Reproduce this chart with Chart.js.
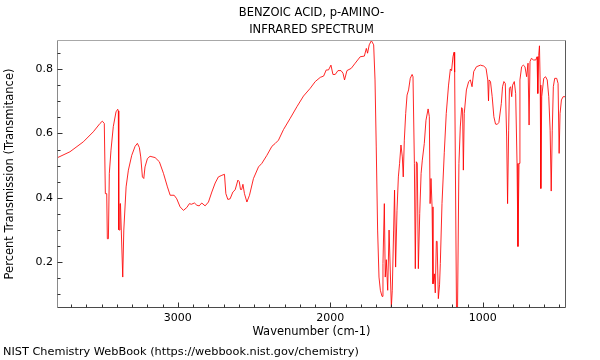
<!DOCTYPE html>
<html><head><meta charset="utf-8">
<script src="https://cdn.jsdelivr.net/npm/chart.js@4/dist/chart.umd.min.js"></script>
<style>html,body{margin:0;padding:0;background:#fff}#wrap{width:600px;height:360px}</style>
</head><body><div id="wrap"><canvas id="c" width="600" height="360"></canvas></div>
<script>
const titleLines = ["BENZOIC ACID, p-AMINO-", "INFRARED SPECTRUM"];
const xAxisTitle = "Wavenumber (cm-1)";
const yAxisTitle = "Percent Transmission (Transmitance)";
const footerText = "NIST Chemistry WebBook (https://webbook.nist.gov/chemistry)";

const wavenumbers = [3792,3707,3619,3554,3510,3495,3482,3475,3466,3462,3455,3449,3438,3423,3405,3394,3390,3387,3383,3379,3376,3361,3354,3339,3324,3302,3280,3265,3252,3243,3232,3223,3215,3199,3182,3149,3121,3094,3068,3050,3024,3007,2985,2963,2941,2924,2911,2891,2875,2860,2843,2821,2799,2777,2755,2734,2711,2694,2685,2672,2657,2639,2624,2606,2597,2589,2581,2573,2563,2547,2530,2504,2471,2449,2416,2383,2361,2340,2307,2263,2219,2176,2132,2099,2066,2044,2027,2012,1996,1983,1968,1950,1930,1917,1907,1891,1863,1837,1804,1777,1764,1756,1745,1731,1716,1707,1699,1690,1681,1672,1661,1655,1646,1640,1633,1624,1615,1610,1600,1594,1585,1579,1572,1563,1554,1546,1537,1528,1522,1515,1506,1497,1487,1476,1464,1458,1449,1443,1436,1430,1423,1414,1405,1397,1384,1373,1359,1351,1346,1340,1333,1327,1318,1312,1305,1300,1292,1284,1279,1268,1253,1240,1225,1213,1205,1196,1189,1185,1173,1166,1157,1148,1139,1133,1128,1122,1108,1093,1082,1071,1060,1042,1016,994,979,968,963,959,950,939,928,917,906,895,879,871,862,853,844,838,831,826,818,811,805,794,785,776,770,763,757,746,735,724,713,704,697,691,682,668,653,645,640,634,629,624,620,614,601,589,578,568,559,552,545,538,529,516,507,500,494,485,474,456];
const transmittance = [0.524,0.543,0.574,0.605,0.631,0.638,0.631,0.413,0.413,0.273,0.273,0.476,0.548,0.621,0.667,0.675,0.670,0.301,0.300,0.382,0.382,0.154,0.300,0.434,0.486,0.532,0.560,0.569,0.556,0.527,0.465,0.460,0.496,0.522,0.529,0.525,0.512,0.476,0.434,0.408,0.408,0.397,0.372,0.361,0.370,0.382,0.380,0.384,0.377,0.375,0.384,0.375,0.387,0.418,0.446,0.465,0.470,0.473,0.413,0.395,0.397,0.418,0.425,0.455,0.450,0.426,0.426,0.442,0.413,0.387,0.408,0.460,0.496,0.507,0.532,0.560,0.569,0.579,0.612,0.647,0.683,0.716,0.740,0.761,0.774,0.778,0.797,0.797,0.812,0.783,0.783,0.795,0.795,0.787,0.766,0.795,0.802,0.818,0.838,0.840,0.864,0.849,0.875,0.888,0.875,0.766,0.558,0.300,0.154,0.113,0.094,0.196,0.382,0.154,0.208,0.113,0.300,0.300,0.061,0.113,0.300,0.424,0.185,0.360,0.465,0.507,0.564,0.527,0.465,0.579,0.662,0.719,0.735,0.771,0.783,0.776,0.507,0.180,0.512,0.507,0.180,0.351,0.476,0.517,0.569,0.641,0.676,0.652,0.382,0.460,0.372,0.133,0.164,0.105,0.265,0.265,0.087,0.130,0.196,0.382,0.540,0.662,0.750,0.800,0.795,0.838,0.852,0.790,0.061,0.061,0.507,0.620,0.680,0.675,0.486,0.662,0.735,0.761,0.766,0.745,0.792,0.807,0.812,0.809,0.802,0.766,0.701,0.766,0.761,0.714,0.652,0.629,0.628,0.634,0.693,0.745,0.761,0.755,0.589,0.382,0.610,0.740,0.745,0.714,0.750,0.761,0.724,0.507,0.249,0.507,0.766,0.807,0.812,0.807,0.776,0.818,0.626,0.823,0.833,0.828,0.828,0.838,0.724,0.842,0.872,0.750,0.429,0.714,0.771,0.776,0.766,0.714,0.610,0.421,0.610,0.745,0.771,0.771,0.755,0.538,0.662,0.704,0.714,0.714];

const xTickValues = [3700,3600,3500,3400,3300,3200,3100,3000,2900,2800,2700,2600,2500,2400,2300,2200,2100,2000,1900,1800,1700,1600,1500,1400,1300,1200,1100,1000,900,800,700,600,500];
const xTickLabels = [3000,2000,1000];
const yTickValues = [0.1,0.15,0.2,0.25,0.3,0.35,0.4,0.45,0.5,0.55,0.6,0.65,0.7,0.75,0.8,0.85];
const yTickLabels = [0.2,0.4,0.6,0.8];
const xRange = [455, 3792];
const yRange = [0.058, 0.89];

const FONT = "'DejaVu Sans', sans-serif";
const points = wavenumbers.map((w, i) => ({x: w, y: transmittance[i]}));

const decor = {
  id: 'decor',
  afterDraw(chart) {
    const ctx = chart.ctx, ca = chart.chartArea;
    const xs = chart.scales.x, ys = chart.scales.y;
    ctx.save();
    ctx.lineWidth = 1;
    const seg = (x1, y1, x2, y2, c) => { ctx.strokeStyle = c; ctx.beginPath(); ctx.moveTo(x1, y1); ctx.lineTo(x2, y2); ctx.stroke(); };
    const L = Math.round(ca.left) + 0.5, R = Math.round(ca.right) - 0.5, T = Math.round(ca.top) + 0.5, B = Math.round(ca.bottom) - 0.5;
    seg(L, T, R, T, '#a8a8a8');
    seg(R, T, R, B, '#5a5a5a');
    seg(L, T, L, B, '#8a8a8a');
    seg(L, B, R, B, '#4a4a4a');
    xTickValues.forEach(v => {
      const px = Math.round(xs.getPixelForValue(v)) + 0.5;
      const len = xTickLabels.includes(v) ? 5 : 3;
      seg(px, B, px, B - len, '#333');
    });
    yTickValues.forEach(v => {
      const py = Math.round(ys.getPixelForValue(v)) + 0.5;
      const len = yTickLabels.includes(v) ? 5 : 3;
      seg(L, py, L + len, py, '#333');
    });
    ctx.fillStyle = '#000';
    ctx.textBaseline = 'middle';
    ctx.textAlign = 'center';
    ctx.font = "11.5px " + FONT;
    const cx = (ca.left + ca.right) / 2;
    ctx.fillText(titleLines[0], cx, 13);
    ctx.fillText(titleLines[1], cx, 30);
    ctx.fillText(xAxisTitle, cx, 332);
    ctx.save();
    ctx.translate(10, (ca.top + ca.bottom) / 2);
    ctx.rotate(-Math.PI / 2);
    ctx.fillText(yAxisTitle, 0, 0);
    ctx.restore();
    ctx.textAlign = 'left';
    ctx.font = "11.3px " + FONT;
    ctx.fillText(footerText, 3, 352);
    ctx.restore();
  }
};

new Chart(document.getElementById('c'), {
  type: 'line',
  data: { datasets: [{ data: points, borderColor: 'rgba(255,0,0,0.85)', borderWidth: 1, pointRadius: 0, tension: 0, fill: false }] },
  options: {
    responsive: false, animation: false, devicePixelRatio: 1,
    layout: { padding: { top: 40, right: 34, left: 0, bottom: 0 } },
    plugins: { legend: { display: false }, tooltip: { enabled: false }, title: { display: false } },
    scales: {
      x: {
        type: 'linear', reverse: true, min: xRange[0], max: xRange[1], position: 'bottom',
        grid: { display: false, drawTicks: false }, border: { display: false },
        afterBuildTicks: s => { s.ticks = xTickValues.map(v => ({ value: v })); },
        afterFit: s => { s.height = 52; },
        ticks: { autoSkip: false, maxRotation: 0, padding: 4, color: '#000', font: { family: FONT, size: 11 },
          callback: v => xTickLabels.includes(v) ? String(v) : '' }
      },
      y: {
        type: 'linear', min: yRange[0], max: yRange[1],
        grid: { display: false, drawTicks: false }, border: { display: false },
        afterBuildTicks: s => { s.ticks = yTickValues.map(v => ({ value: v })); },
        afterFit: s => { s.width = 57; },
        ticks: { autoSkip: false, padding: 4, color: '#000', font: { family: FONT, size: 11 },
          callback: v => yTickLabels.includes(v) ? v.toFixed(1) : '' }
      }
    }
  },
  plugins: [decor]
});
</script>
</body></html>
